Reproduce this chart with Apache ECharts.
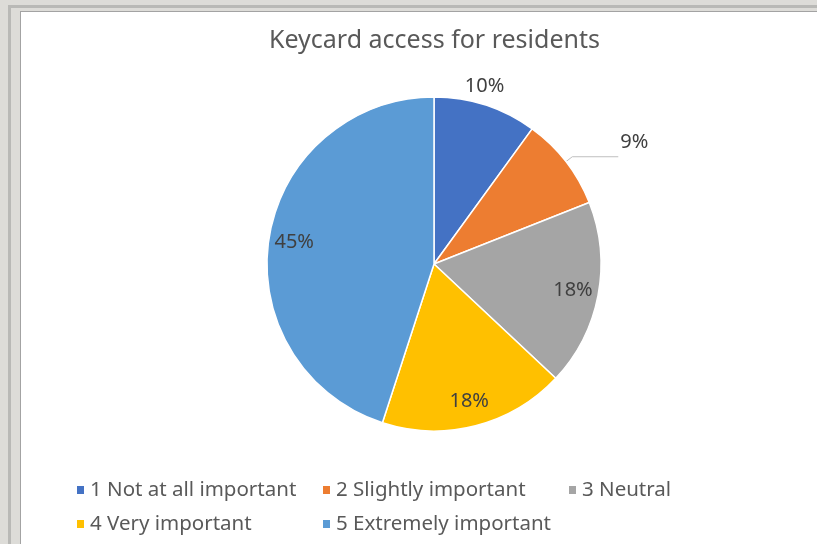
<!DOCTYPE html>
<html>
<head>
<meta charset="utf-8">
<title>Keycard access for residents</title>
<script src="https://cdn.jsdelivr.net/npm/echarts@6/dist/echarts.min.js"></script>
<style>
  html, body { margin: 0; padding: 0; }
  body { width: 817px; height: 544px; background: #dddcd8; position: relative; overflow: hidden; }
  #frame { position: absolute; left: 8px; top: 5px; right: 0; bottom: 0; border-left: 3px solid #b9b9b6; border-top: 3px solid #b9b9b6; }
  #chart { position: absolute; left: 20px; top: 11px; width: 797px; height: 533px; background: #fff;
           box-sizing: border-box; border-left: 1px solid #a3a3a3; border-top: 1px solid #a3a3a3; }
</style>
</head>
<body>
<div id="frame"></div>
<div id="chart"></div>
<script>
// survey answers, share of residents in %
const categories = ['1 Not at all important', '2 Slightly important', '3 Neutral', '4 Very important', '5 Extremely important'];
const shares = [10, 9, 18, 18, 45];

const colors = ['#4472c4', '#ed7d31', '#a5a5a5', '#ffc000', '#5b9bd5'];
const font = 'Noto Sans';
const center = [413, 252];

const chart = echarts.init(document.getElementById('chart'));

chart.setOption({
  color: colors,
  animation: false,
  title: {
    text: 'Keycard access for residents',
    left: 248,
    top: 16,
    padding: 0,
    textStyle: { fontFamily: font, fontSize: 25, fontWeight: 'normal', color: '#595959' }
  },
  legend: {
    data: categories,
    left: 54,
    top: 466,
    width: 740,
    padding: 0,
    icon: 'rect',
    itemWidth: 9,
    itemHeight: 10,
    itemGap: 10,
    textStyle: { fontFamily: font, fontSize: 20.5, color: '#595959', width: 221, lineHeight: 24 }
  },
  series: [
    {
      // the visible pie, with the two small slices labelled outside
      type: 'pie',
      center: center,
      radius: 167,
      startAngle: 90,
      avoidLabelOverlap: false,
      itemStyle: { borderColor: '#fff', borderWidth: 1.5 },
      emphasis: { disabled: true },
      label: {
        position: 'outside',
        formatter: p => p.value + '%',
        fontFamily: font,
        fontSize: 20,
        color: '#404040'
      },
      labelLine: { lineStyle: { color: '#bfbfbf', width: 1 } },
      labelLayout: p => {
        if (p.dataIndex === 0) return { align: 'center', dx: -11, dy: -4 };
        if (p.dataIndex === 1) return { dx: -3, dy: -14 };
        return {};
      },
      data: categories.map((name, i) => ({
        name: name,
        value: shares[i],
        label: { show: i < 2 },
        labelLine: { show: i === 1, length: i === 1 ? 8 : 16, length2: i === 1 ? 46 : 0 }
      }))
    },
    {
      // transparent ring, only used to put the inside labels near the rim
      type: 'pie',
      center: center,
      radius: [110, 167],
      startAngle: 90,
      silent: true,
      emphasis: { disabled: true },
      label: {
        position: 'inside',
        formatter: p => p.value + '%',
        fontFamily: font,
        fontSize: 20,
        color: '#404040'
      },
      data: categories.map((name, i) => ({
        name: name,
        value: shares[i],
        itemStyle: { color: 'rgba(0,0,0,0)', borderWidth: 0 },
        label: { show: i >= 2 }
      }))
    }
  ]
});
</script>
</body>
</html>
